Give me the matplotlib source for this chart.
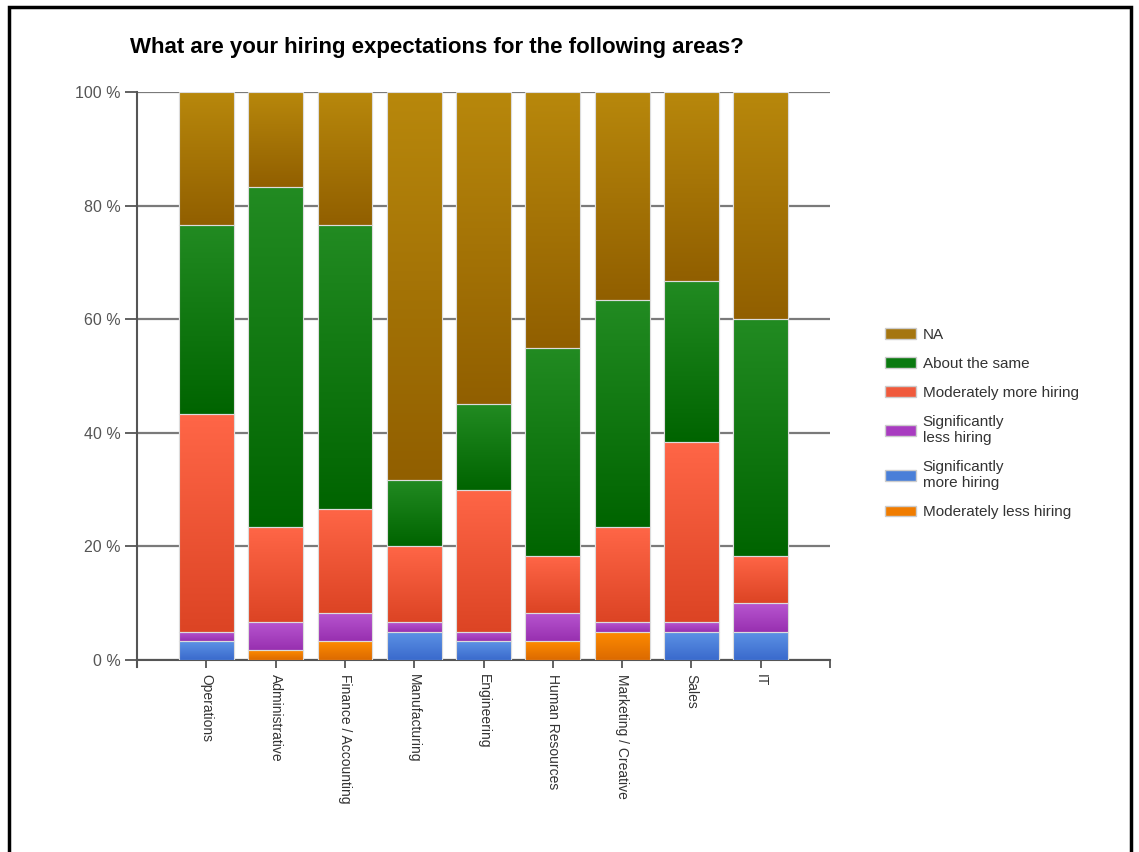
import numpy as np
import matplotlib
matplotlib.use("Agg")
import matplotlib.pyplot as plt
from matplotlib.colors import LinearSegmentedColormap
from matplotlib.patches import Patch, Rectangle

plt.rcParams["font.family"] = ["Liberation Sans", "DejaVu Sans"]

areas = ["Operations", "Administrative", "Finance / Accounting", "Manufacturing",
         "Engineering", "Human Resources", "Marketing / Creative", "Sales", "IT"]

# percentages, stacked bottom to top
mod_less = [0.0, 1.67, 3.33, 0.0, 0.0, 3.33, 5.0, 0.0, 0.0]
sig_more = [3.33, 0.0, 0.0, 5.0, 3.33, 0.0, 0.0, 5.0, 5.0]
sig_less = [1.67, 5.0, 5.0, 1.67, 1.67, 5.0, 1.67, 1.67, 5.0]
mod_more = [38.33, 16.67, 18.33, 13.33, 25.0, 10.0, 16.67, 31.67, 8.33]
same = [33.33, 60.0, 50.0, 11.67, 15.0, 36.67, 40.0, 28.33, 41.67]
na = [23.33, 16.67, 23.33, 68.33, 55.0, 45.0, 36.67, 33.33, 40.0]

series = [
    ("Moderately less hiring", mod_less, "#dc6a00", "#ff8c00", "#f07c00"),
    ("Significantly\nmore hiring", sig_more, "#3a6acc", "#5d93e6", "#4a7fd8"),
    ("Significantly\nless hiring", sig_less, "#9830b0", "#b856d0", "#a83cc0"),
    ("Moderately more hiring", mod_more, "#dc4424", "#ff6647", "#f05a3c"),
    ("About the same", same, "#006400", "#228b22", "#0a7a10"),
    ("NA", na, "#915f00", "#b8880c", "#a57610"),
]

fig = plt.figure(figsize=(11.39, 8.52), dpi=100)
ax = fig.add_axes([0.1203, 0.2254, 0.6085, 0.6667])

x = np.arange(1, len(areas) + 1)
width = 0.79
bottom = np.zeros(len(areas))
grad = np.linspace(0, 1, 256).reshape(-1, 1)
for label, vals, dark, light, solid in series:
    vals = np.array(vals)
    bars = ax.bar(x, vals, width, bottom=bottom, color=solid,
                  edgecolor="#dedede", linewidth=0.8, zorder=3)
    cmap = LinearSegmentedColormap.from_list(label, [dark, light])
    for b, v, b0 in zip(bars, vals, bottom):
        if v <= 0:
            continue
        im = ax.imshow(grad, cmap=cmap, origin="lower", aspect="auto",
                       extent=(b.get_x(), b.get_x() + b.get_width(), b0, b0 + v),
                       zorder=3.5)
        im.set_clip_path(b)
        edge = Rectangle((b.get_x(), b0), b.get_width(), v, fill=False,
                         edgecolor="#dcdcdc", linewidth=0.8, zorder=4)
        ax.add_patch(edge)
    bottom = bottom + vals

ax.set_xlim(0, 10)
ax.set_ylim(0, 100)
ax.set_yticks([0, 20, 40, 60, 80, 100])
ax.set_yticklabels(["0 %", "20 %", "40 %", "60 %", "80 %", "100 %"],
                   fontsize=11.5, color="#555555")
ax.yaxis.grid(True, color="#7a7a7a", linewidth=1.6, zorder=1)
ax.set_axisbelow(True)
ax.tick_params(axis="y", length=9, width=1.3, color="#555555", pad=3)
ax.set_xticks(x)
ax.set_xticklabels(areas, rotation=270, fontsize=10, color="#333333")
ax.set_xticks([10], minor=True)
ax.tick_params(axis="x", which="both", length=6, width=1.3, color="#555555", pad=4)
for s in ["top", "right"]:
    ax.spines[s].set_visible(False)
ax.spines["left"].set_color("#555555")
ax.spines["left"].set_linewidth(1.5)
ax.spines["left"].set_bounds(-1.3, 100)
ax.spines["bottom"].set_color("#555555")
ax.spines["bottom"].set_linewidth(1.5)

handles = [Patch(facecolor=s[4], edgecolor="#cccccc", label=s[0]) for s in series[::-1]]
fig.legend(handles=handles, loc="upper left", bbox_to_anchor=(0.765, 0.631),
           frameon=False, fontsize=11, handlelength=2.0, handleheight=0.7,
           labelspacing=0.98, handletextpad=0.45, labelcolor="#333333")

fig.text(0.1145, 0.944, "What are your hiring expectations for the following areas?",
         fontsize=16, fontweight="bold", va="center", ha="left")

fig.add_artist(Rectangle((0.0075, -0.1), 0.9855, 1.092, transform=fig.transFigure,
                         fill=False, edgecolor="black", linewidth=2.5))

fig.savefig("out.png", dpi=100)
